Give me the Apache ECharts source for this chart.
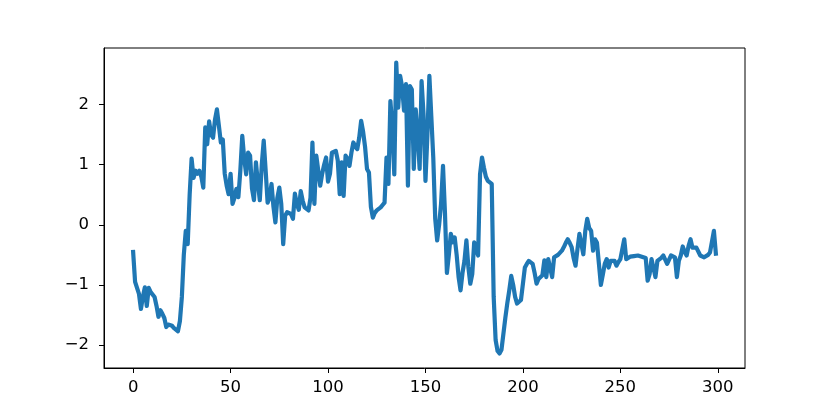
<!DOCTYPE html>
<html>
<head>
<meta charset="utf-8">
<script src="https://cdn.jsdelivr.net/npm/echarts@6/dist/echarts.min.js"></script>
<style>
  html, body { margin: 0; padding: 0; background: #fff; }
  #chart { width: 830px; height: 415px; }
</style>
</head>
<body>
<div id="chart"></div>
<script>
// values, one per step 0..299
const values = [
  -0.45, -0.95, -0.97, -1.15, -1.40, -1.2, -1.04, -1.35, -1.05, -1.12,
  -1.15, -1.2, -1.35, -1.53, -1.42, -1.48, -1.55, -1.70, -1.66, -1.65,
  -1.68, -1.72, -1.75, -1.77, -1.6, -1.2, -0.5, -0.1, -0.32, 0.5,
  1.1, 0.78, 0.9, 0.85, 0.9, 0.8, 0.62, 1.62, 1.34, 1.72,
  1.5, 1.45, 1.75, 1.92, 1.65, 1.37, 1.42, 0.85, 0.65, 0.51,
  0.85, 0.35, 0.45, 0.6, 0.46, 0.9, 1.48, 1.1, 0.84, 1.2,
  1.15, 0.6, 0.41, 1.04, 0.7, 0.41, 1.0, 1.40, 0.9, 0.37,
  0.45, 0.68, 0.3, 0.04, 0.45, 0.62, 0.35, -0.32, 0.15, 0.21,
  0.2, 0.18, 0.1, 0.52, 0.35, 0.25, 0.56, 0.4, 0.29, 0.3,
  0.24, 0.45, 1.37, 0.35, 1.15, 0.9, 0.65, 0.85, 1.0, 1.12,
  0.72, 0.85, 1.2, 1.2, 1.23, 1.07, 0.51, 1.04, 0.48, 1.15,
  1.1, 0.98, 1.2, 1.37, 1.3, 1.26, 1.45, 1.73, 1.55, 1.3,
  0.93, 0.87, 0.3, 0.12, 0.2, 0.24, 0.27, 0.29, 0.33, 0.37,
  1.12, 0.68, 2.06, 1.62, 0.84, 2.7, 1.95, 2.48, 2.3, 1.9,
  2.34, 0.65, 2.31, 2.25, 0.93, 1.92, 1.5, 0.93, 2.39, 1.84,
  0.73, 1.5, 2.48, 1.8, 1.12, 0.1, -0.26, 0.0, 0.35, 0.98,
  0.2, -0.8, -0.5, -0.15, -0.29, -0.21, -0.5, -0.87, -1.09, -0.8,
  -0.6, -0.26, -0.7, -0.98, -0.82, -0.29, -0.4, -0.51, 0.84, 1.12,
  0.95, 0.8, 0.73, 0.7, 0.68, -1.2, -1.92, -2.1, -2.14, -2.08,
  -2.06, -1.54, -1.3, -1.09, -0.85, -1.0, -1.2, -1.31, -1.28, -1.25,
  -1.23, -0.71, -0.65, -0.6, -0.57, -0.65, -0.8, -0.98, -0.9, -0.88,
  -0.84, -0.59, -0.87, -0.57, -0.54, -0.87, -0.54, -0.52, -0.5, -0.47,
  -0.43, -0.37, -0.3, -0.24, -0.3, -0.37, -0.55, -0.68, -0.4, -0.15,
  -0.12, -0.49, -0.1, 0.1, -0.05, -0.1, -0.43, -0.24, -0.3, -0.65,
  -1.0, -0.83, -0.65, -0.57, -0.71, -0.6, -0.57, -0.6, -0.68, -0.62,
  -0.57, -0.55, -0.24, -0.57, -0.55, -0.53, -0.51, -0.52, -0.52, -0.51,
  -0.51, -0.53, -0.54, -0.55, -0.93, -0.82, -0.57, -0.6, -0.87, -0.6,
  -0.58, -0.55, -0.51, -0.58, -0.65, -0.58, -0.51, -0.52, -0.54, -0.87,
  -0.6, -0.51, -0.36, -0.45, -0.51, -0.35, -0.24, -0.38, -0.41, -0.38,
  -0.38, -0.51, -0.52, -0.54, -0.54, -0.5, -0.46, -0.45, -0.1, -0.48
]
const xTicks = [0, 50, 100, 150, 200, 250, 300]
const yTicks = [-2, -1, 0, 1, 2]

const points = values.map((v, i) => [i, v])

// matplotlib style 5% margins
const n = values.length - 1
const ymin = Math.min(...values), ymax = Math.max(...values)
const xpad = n * 0.05, ypad = (ymax - ymin) * 0.05

const minus = v => String(v).replace('-', '\u2212')

const chart = echarts.init(document.getElementById('chart'))
chart.setOption({
  animation: false,
  grid: {
    left: 104, top: 48, width: 641, height: 320,
    show: true, borderColor: '#000', borderWidth: 1, backgroundColor: '#fff'
  },
  xAxis: {
    type: 'value',
    min: -xpad, max: n + xpad,
    axisLine: { show: true, onZero: false, lineStyle: { color: '#000', width: 1 } },
    splitLine: { show: false },
    axisTick: { show: true, inside: false, length: 5, lineStyle: { color: '#000' }, customValues: xTicks },
    axisLabel: {
      customValues: xTicks, color: '#000', fontSize: 16.5, margin: 11,
      fontFamily: 'DejaVu Sans', formatter: minus
    }
  },
  yAxis: {
    type: 'value',
    min: ymin - ypad, max: ymax + ypad,
    axisLine: { show: true, onZero: false, lineStyle: { color: '#000', width: 1 } },
    splitLine: { show: false },
    axisTick: { show: true, inside: false, length: 5, lineStyle: { color: '#000' }, customValues: yTicks },
    axisLabel: {
      customValues: yTicks, color: '#000', fontSize: 16.5, margin: 15,
      fontFamily: 'DejaVu Sans', formatter: minus
    }
  },
  series: [
    {
      type: 'line',
      data: points,
      showSymbol: false,
      lineStyle: { color: '#1f77b4', width: 4.2, cap: 'square', join: 'round' }
    }
  ]
})
</script>
</body>
</html>
